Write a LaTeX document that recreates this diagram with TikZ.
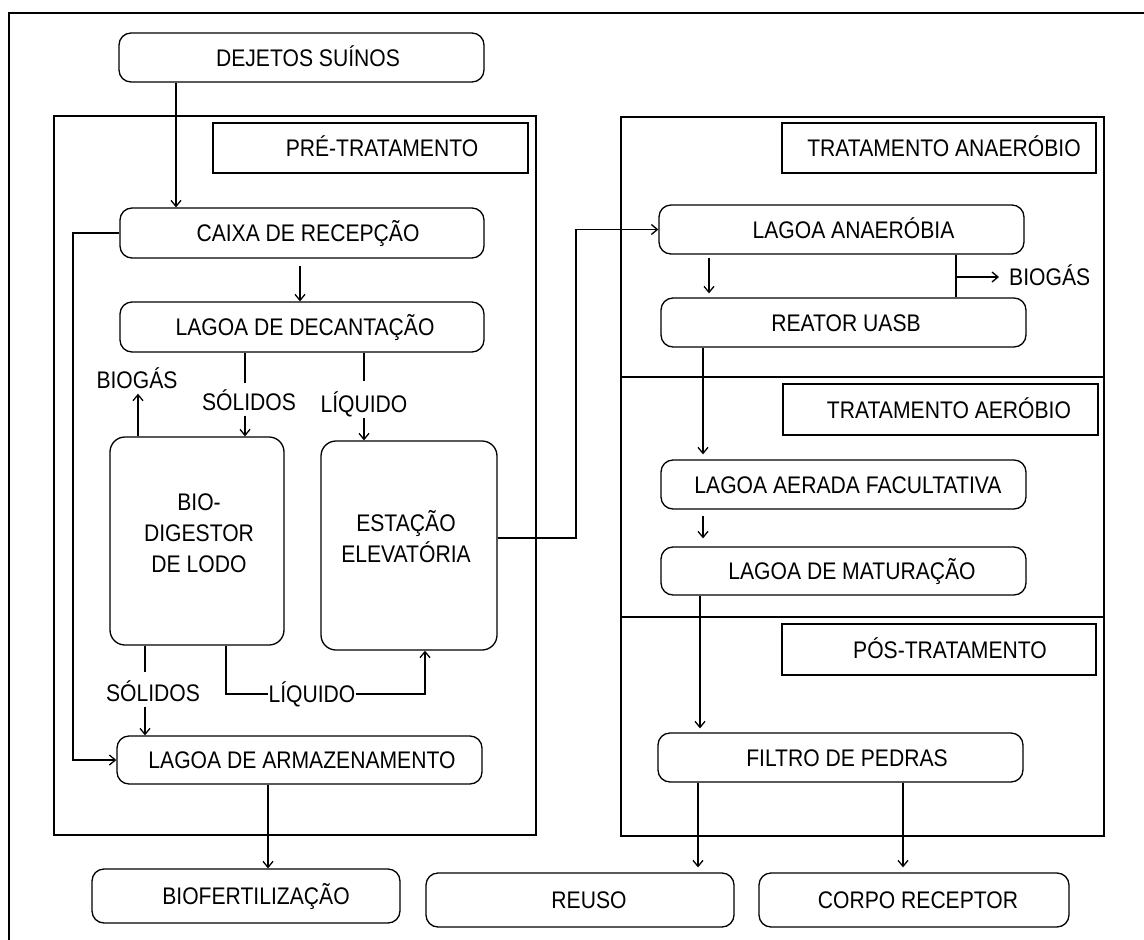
\documentclass[tikz,border=0pt]{standalone}
\usepackage{fontspec}
\setmainfont{Liberation Sans}[FakeStretch=0.88]
\usetikzlibrary{arrows.meta}
\begin{document}
\begin{tikzpicture}[x=1pt,y=-1pt,
  every node/.style={font=\fontsize{24pt}{31pt}\selectfont},
  box/.style={draw, line width=1.3pt, rounded corners=12pt, inner sep=0pt, text height=17pt, text depth=0pt},
  tag/.style={draw, line width=1.3pt, inner sep=0pt, text height=17pt, text depth=0pt},
  lbl/.style={inner xsep=0pt, inner ysep=5pt, text height=17pt, text depth=0pt},
  panel/.style={draw, line width=1.5pt},
  arr/.style={-{Straight Barb[length=6pt,width=10pt]}, line width=1.3pt},
  ln/.style={line width=1.3pt}]
\useasboundingbox (0,0) rectangle (1144,940);
% outer frame and panels
\draw[line width=2.6pt] (9,941) -- (9,13) -- (1145,13);
\draw[panel] (54,116) rectangle (536,835);
\draw[panel] (621,117) rectangle (1104,836);
\draw[panel] (621,377) -- (1104,377);
\draw[panel] (621,617) -- (1104,617);
% left column
\node[box, minimum width=365pt, minimum height=49pt] (dej) at (301.5,57.5) {\hspace*{13pt}DEJETOS SUÍNOS};
\node[tag, minimum width=315pt, minimum height=50pt] (tpre) at (370.5,148) {\hspace*{23pt}PRÉ-TRATAMENTO};
\node[box, minimum width=364pt, minimum height=50pt] (caixa) at (302,233) {\hspace*{12pt}CAIXA DE RECEPÇÃO};
\node[box, minimum width=364pt, minimum height=50pt] (dec) at (302,327) {\hspace*{6pt}LAGOA DE DECANTAÇÃO};
\node[box, minimum width=174pt, minimum height=208pt, rounded corners=15pt,
  label={[align=center, yshift=8pt, xshift=2pt]center:BIO-\\DIGESTOR\\DE LODO}] (bio) at (197,541) {};
\node[box, minimum width=176pt, minimum height=209pt, rounded corners=15pt,
  label={[align=center, yshift=9pt, xshift=-3pt]center:ESTAÇÃO\\ELEVATÓRIA}] (est) at (409,545.5) {};
\node[lbl] (bg1) at (137,380) {BIOGÁS};
\node[lbl] (s1) at (249,402) {SÓLIDOS};
\node[lbl] (l1) at (364,404) {LÍQUIDO};
\node[lbl] (s2) at (153,693) {SÓLIDOS};
\node[lbl] (l2) at (312,694) {LÍQUIDO};
\node[box, minimum width=365pt, minimum height=48pt] (arm) at (299.5,760) {\hspace*{5pt}LAGOA DE ARMAZENAMENTO};
\node[box, minimum width=308pt, minimum height=54pt] (bf) at (246,896) {\hspace*{20pt}BIOFERTILIZAÇÃO};
\node[box, minimum width=308pt, minimum height=54pt] (reu) at (580,900) {\hspace*{18pt}REUSO};
\node[box, minimum width=310pt, minimum height=54pt] (cor) at (914,900) {\hspace*{8pt}CORPO RECEPTOR};
% right column
\node[tag, minimum width=314pt, minimum height=50pt] (tan) at (939,148) {\hspace*{10pt}TRATAMENTO ANAERÓBIO};
\node[box, minimum width=365pt, minimum height=49pt] (la) at (841.5,229.5) {\hspace*{24pt}LAGOA ANAERÓBIA};
\node[box, minimum width=365pt, minimum height=49pt] (ua) at (843.5,322.5) {\hspace*{5pt}REATOR UASB};
\node[lbl, anchor=west] (bg2) at (1009,277) {BIOGÁS};
\node[tag, minimum width=315pt, minimum height=51pt] (tae) at (940.5,409.5) {\hspace*{17pt}TRATAMENTO AERÓBIO};
\node[box, minimum width=365pt, minimum height=49pt] (aer) at (843.5,484.5) {\hspace*{9pt}LAGOA AERADA FACULTATIVA};
\node[box, minimum width=365pt, minimum height=48pt] (mat) at (843.5,571) {\hspace*{17pt}LAGOA DE MATURAÇÃO};
\node[tag, minimum width=314pt, minimum height=51pt] (tpo) at (939,649.5) {\hspace*{22pt}PÓS-TRATAMENTO};
\node[box, minimum width=365pt, minimum height=49pt] (fil) at (840.5,757.5) {\hspace*{13pt}FILTRO DE PEDRAS};
% guide coordinates
\coordinate (xa) at (176,0);
\coordinate (xb) at (300,0);
\coordinate (xc) at (245,0);
\coordinate (xd) at (364,0);
\coordinate (xe) at (138,0);
\coordinate (xf) at (145,0);
\coordinate (xg) at (226,0);
\coordinate (xh) at (425,0);
\coordinate (xi) at (73,0);
\coordinate (xj) at (268,0);
\coordinate (xk) at (576,0);
\coordinate (xl) at (709,0);
\coordinate (xm) at (956,0);
\coordinate (xn) at (703,0);
\coordinate (xo) at (700,0);
\coordinate (xp) at (698,0);
\coordinate (xq) at (903,0);
\coordinate (ye) at (0,538);
\coordinate (yg) at (0,277);
% connectors
\draw[arr] (dej.south -| xa) -- (caixa.north -| xa);
\draw[arr, shorten <=7pt] (caixa.south -| xb) -- (dec.north -| xb);
\draw[ln, shorten >=5pt] (dec.south -| xc) -- (s1.north -| xc);
\draw[arr] (s1.south -| xc) -- (bio.north -| xc);
\draw[ln, shorten >=9pt] (dec.south -| xd) -- (l1.north -| xd);
\draw[arr] (l1.south -| xd) -- (est.north -| xd);
\draw[arr] (bio.north -| xe) -- (bg1.south -| xe);
\draw[ln, shorten >=7pt] (bio.south -| xf) -- (s2.north -| xf);
\draw[arr] (s2.south -| xf) -- (arm.north -| xf);
\draw[ln] (bio.south -| xg) |- (l2.west);
\draw[arr] (l2.east) -| (est.south -| xh);
\draw[arr] (caixa.west) -| (xi |- arm.west) -- (arm.west);
\draw[arr] (arm.south -| xj) -- (bf.north -| xj);
\draw[arr] (est.east |- ye) -| (xk |- la.west) -- (la.west);
\draw[arr, shorten <=3pt, shorten >=4pt] (la.south -| xl) -- (ua.north -| xl);
\draw[ln] (la.south -| xm) -- (ua.north -| xm);
\draw[arr, shorten >=10pt] (xm |- yg) -- (bg2.west);
\draw[arr, shorten >=5pt] (ua.south -| xn) -- (aer.north -| xn);
\draw[arr, shorten <=6pt, shorten >=8pt] (aer.south -| xn) -- (mat.north -| xn);
\draw[arr, shorten >=4pt] (mat.south -| xo) -- (fil.north -| xo);
\draw[arr, shorten >=5pt] (fil.south -| xp) -- (reu.north -| xp);
\draw[arr, shorten >=5pt] (fil.south -| xq) -- (cor.north -| xq);
\end{tikzpicture}
\end{document}
